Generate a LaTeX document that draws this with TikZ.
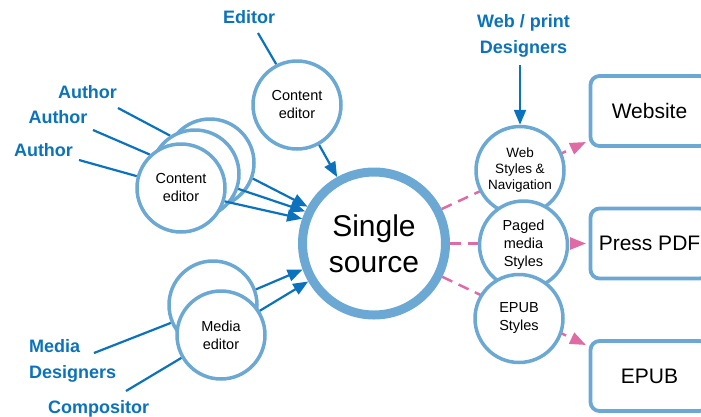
\documentclass[tikz,border=0pt]{standalone}
\usepackage{fontspec}
\setmainfont{Liberation Sans}
\usetikzlibrary{arrows.meta,backgrounds}
\definecolor{ringblue}{HTML}{6CA8D4}
\definecolor{labelblue}{HTML}{0B72BD}
\definecolor{linkpink}{HTML}{E06AA3}
\begin{document}
\begin{tikzpicture}[x=1pt,y=-1pt,
  role/.style={circle, draw=ringblue, line width=3.5pt, fill=white, minimum size=88pt, inner sep=0pt, align=center, font=\fontsize{14.5}{18}\selectfont},
  outbox/.style={draw=ringblue, line width=3.8pt, rounded corners=9pt, fill=white, minimum width=118pt, minimum height=70pt, font=\fontsize{21}{25}\selectfont},
  actor/.style={text=labelblue, font=\bfseries\fontsize{18}{26}\selectfont, inner sep=0pt},
  feed/.style={draw=labelblue, line width=2.2pt},
  feedarrow/.style={feed, -{Triangle[length=15pt,width=12pt]}},
  publish/.style={draw=linkpink, line width=2.5pt, dash pattern=on 11pt off 7pt, -{Triangle[length=16pt,width=12pt]}}
]
\useasboundingbox (0,0) rectangle (701,416);

% central source
\node[circle, draw=ringblue, line width=9pt, fill=white, minimum size=143pt, inner sep=0pt, align=center, font=\fontsize{30}{36}\selectfont] (src) at (374,243.5) {Single\\source};

% editors
\node[role] (ce) at (297,105) {Content\\editor};
\node[role] (stackB) at (210,163) {};
\node[role] (stackM) at (195,174) {};
\node[role] (stackF) at (181,188) {Content\\editor};
\node[role] (mediaB) at (213,305) {};
\node[role] (mediaF) at (221,335) {Media\\editor};

% style circles
\node[role, font=\fontsize{13.5}{16}\selectfont] (web) at (520,170.5) {Web\\Styles \&\\Navigation};
\node[role] (paged) at (523.5,245) {Paged\\media\\Styles};
\node[role] (epubS) at (519,318.5) {EPUB\\Styles};

% outputs
\node[outbox] (website) at (649.5,111) {Website};
\node[outbox] (pdf) at (649.5,243.5) {Press PDF};
\node[outbox] (epub) at (649.5,376) {EPUB};

% actor labels
\node[actor, anchor=base] (editor) at (249,23) {Editor};
\node[actor, anchor=base] (author1) at (87.5,98) {Author};
\node[actor, anchor=base] (author2) at (58,123) {Author};
\node[actor, anchor=base] (author3) at (43.5,156) {Author};
\node[actor, anchor=west, align=left] (media) at (29,360.4) {Media\\Designers};
\node[actor, anchor=base west] (compositor) at (48,413) {Compositor};
\node[actor, align=center] (webprint) at (523.5,35.4) {Web / print\\Designers};

% free ends
\coordinate (editorTail) at (258,33);
\coordinate (a1Tail) at (118,108);
\coordinate (a2Tail) at (93,130);
\coordinate (a3Tail) at (79,160);
\coordinate (mdTail) at (94,353);
\coordinate (compTail) at (126,391);
\coordinate (designTail) at (520,65);
\coordinate (webtip) at (586,142);
\coordinate (pdftip) at (586,243.5);
\coordinate (epubtip) at (586,345);

\begin{scope}[on background layer]
  \draw[publish] (src.27) -- (webtip);
  \draw[publish] (src.0) -- (pdftip);
  \draw[publish] (src.-26) -- (epubtip);
  \draw[feed] (a1Tail) -- (stackM.123);
  \draw[feed] (a2Tail) -- (stackF.133);
  \draw[feed] (a3Tail) -- (stackF.165);
  \draw[feed] (mdTail) -- (mediaB.203);
  \draw[feed] (compTail) -- (mediaF.210);
  \draw[feed] (editorTail) -- (ce.117);
\end{scope}

\draw[feedarrow] (ce.-61) -- (src.119);
\draw[feedarrow] (designTail) -- (web.north);
\draw[feedarrow] (stackB.-20) -- (src.151);
\draw[feedarrow] (stackM.-19) -- (src.155);
\draw[feedarrow] (stackF.-17) -- (src.161);
\draw[feedarrow] (mediaB.20) -- (src.200);
\draw[feedarrow] (mediaF.32) -- (src.210);
\end{tikzpicture}
\end{document}
